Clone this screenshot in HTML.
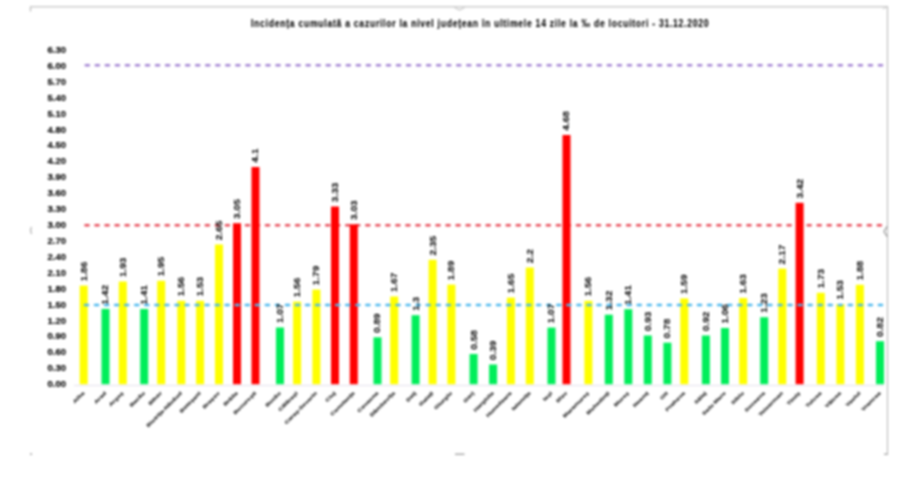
<!DOCTYPE html>
<html><head><meta charset="utf-8">
<style>
html,body{margin:0;padding:0;background:#fff;}
body{width:922px;height:500px;overflow:hidden;position:relative;}
svg{position:absolute;left:0;top:0;}
text{font-family:"Liberation Sans",sans-serif;font-weight:bold;stroke-linejoin:round;}
</style></head><body>
<svg width="922" height="500" viewBox="0 0 922 500">
<defs><filter id="bl" x="-5%" y="-5%" width="110%" height="110%" color-interpolation-filters="sRGB"><feGaussianBlur stdDeviation="0.8 0.8"/></filter></defs>
<g filter="url(#bl)">
<rect x="0" y="0" width="922" height="500" fill="#fff"/>

<rect x="30" y="6.3" width="857.5" height="1" fill="#b4b4b4"/>
<rect x="887" y="6.3" width="1" height="448" fill="#b4b4b4"/>
<path d="M30.5 7 L30.5 11.5" stroke="#bdbdbd" stroke-width="1.3" fill="none"/>
<path d="M454.5 7.5 L459.5 10 L464.5 7.5" stroke="#c8c8c8" stroke-width="1.3" fill="none"/>
<path d="M883 9 L887 6.5" stroke="#c8c8c8" stroke-width="1" fill="none"/>
<path d="M31.5 227 L30.5 230 L31.5 234" stroke="#b0b0b0" stroke-width="1.2" fill="none"/>
<path d="M887 226.5 L884 231.5 L887 236.5" stroke="#909090" stroke-width="1.2" fill="none"/>
<rect x="30.3" y="453.3" width="1.6" height="1.6" fill="#909090"/>
<rect x="455" y="453.5" width="9.5" height="1.5" fill="#a8a8a8"/>
<rect x="884" y="453.5" width="4" height="1.4" fill="#a8a8a8"/>
<text transform="translate(251,26.6) scale(0.86,1)" x="0" y="0" font-size="10" fill="#000" stroke="#000" stroke-width="0.1" textLength="532" lengthAdjust="spacing">Incidența cumulată a cazurilor la nivel județean în ultimele 14 zile la ‰ de locuitori - 31.12.2020</text>
<text x="66" y="387.2" font-size="9.5" text-anchor="end" fill="#000" stroke="#000" stroke-width="0.15">0.00</text>
<text x="66" y="371.3" font-size="9.5" text-anchor="end" fill="#000" stroke="#000" stroke-width="0.15">0.30</text>
<text x="66" y="355.4" font-size="9.5" text-anchor="end" fill="#000" stroke="#000" stroke-width="0.15">0.60</text>
<text x="66" y="339.4" font-size="9.5" text-anchor="end" fill="#000" stroke="#000" stroke-width="0.15">0.90</text>
<text x="66" y="323.5" font-size="9.5" text-anchor="end" fill="#000" stroke="#000" stroke-width="0.15">1.20</text>
<text x="66" y="307.6" font-size="9.5" text-anchor="end" fill="#000" stroke="#000" stroke-width="0.15">1.50</text>
<text x="66" y="291.7" font-size="9.5" text-anchor="end" fill="#000" stroke="#000" stroke-width="0.15">1.80</text>
<text x="66" y="275.8" font-size="9.5" text-anchor="end" fill="#000" stroke="#000" stroke-width="0.15">2.10</text>
<text x="66" y="259.8" font-size="9.5" text-anchor="end" fill="#000" stroke="#000" stroke-width="0.15">2.40</text>
<text x="66" y="243.9" font-size="9.5" text-anchor="end" fill="#000" stroke="#000" stroke-width="0.15">2.70</text>
<text x="66" y="228.0" font-size="9.5" text-anchor="end" fill="#000" stroke="#000" stroke-width="0.15">3.00</text>
<text x="66" y="212.1" font-size="9.5" text-anchor="end" fill="#000" stroke="#000" stroke-width="0.15">3.30</text>
<text x="66" y="196.2" font-size="9.5" text-anchor="end" fill="#000" stroke="#000" stroke-width="0.15">3.60</text>
<text x="66" y="180.2" font-size="9.5" text-anchor="end" fill="#000" stroke="#000" stroke-width="0.15">3.90</text>
<text x="66" y="164.3" font-size="9.5" text-anchor="end" fill="#000" stroke="#000" stroke-width="0.15">4.20</text>
<text x="66" y="148.4" font-size="9.5" text-anchor="end" fill="#000" stroke="#000" stroke-width="0.15">4.50</text>
<text x="66" y="132.5" font-size="9.5" text-anchor="end" fill="#000" stroke="#000" stroke-width="0.15">4.80</text>
<text x="66" y="116.6" font-size="9.5" text-anchor="end" fill="#000" stroke="#000" stroke-width="0.15">5.10</text>
<text x="66" y="100.6" font-size="9.5" text-anchor="end" fill="#000" stroke="#000" stroke-width="0.15">5.40</text>
<text x="66" y="84.7" font-size="9.5" text-anchor="end" fill="#000" stroke="#000" stroke-width="0.15">5.70</text>
<text x="66" y="68.8" font-size="9.5" text-anchor="end" fill="#000" stroke="#000" stroke-width="0.15">6.00</text>
<text x="66" y="52.9" font-size="9.5" text-anchor="end" fill="#000" stroke="#000" stroke-width="0.15">6.30</text>
<rect x="74" y="385.0" width="810" height="1" fill="#e4e0ec"/>
<line x1="85.5" y1="225.2" x2="884" y2="225.2" stroke="#e84a58" stroke-width="2.6" stroke-linecap="round" stroke-dasharray="3.0 7.03"/>
<rect x="79.7" y="285.6" width="8.0" height="98.6" fill="#FFFF00"/>
<rect x="101.5" y="308.9" width="8.0" height="75.3" fill="#00EE5A"/>
<rect x="118.8" y="281.5" width="8.0" height="102.7" fill="#FFFF00"/>
<rect x="140.2" y="309.0" width="8.0" height="75.2" fill="#00EE5A"/>
<rect x="157.2" y="280.8" width="8.0" height="103.4" fill="#FFFF00"/>
<rect x="177.3" y="300.8" width="8.0" height="83.4" fill="#FFFF00"/>
<rect x="196.1" y="300.8" width="8.0" height="83.4" fill="#FFFF00"/>
<rect x="215.0" y="244.5" width="8.0" height="139.7" fill="#FFFF00"/>
<rect x="233.0" y="223.2" width="8.0" height="161.0" fill="#FF0000"/>
<rect x="251.5" y="167.0" width="8.0" height="217.2" fill="#FF0000"/>
<rect x="276.0" y="327.5" width="8.0" height="56.7" fill="#00EE5A"/>
<rect x="293.1" y="301.6" width="8.0" height="82.6" fill="#FFFF00"/>
<rect x="312.4" y="289.6" width="8.0" height="94.6" fill="#FFFF00"/>
<rect x="331.0" y="206.5" width="8.0" height="177.7" fill="#FF0000"/>
<rect x="349.8" y="224.3" width="8.0" height="159.9" fill="#FF0000"/>
<rect x="373.5" y="337.3" width="8.0" height="46.9" fill="#00EE5A"/>
<rect x="390.2" y="296.5" width="8.0" height="87.7" fill="#FFFF00"/>
<rect x="411.6" y="315.2" width="8.0" height="69.0" fill="#00EE5A"/>
<rect x="428.6" y="259.8" width="8.0" height="124.4" fill="#FFFF00"/>
<rect x="447.4" y="284.6" width="8.0" height="99.6" fill="#FFFF00"/>
<rect x="469.6" y="354.0" width="8.0" height="30.2" fill="#00EE5A"/>
<rect x="489.1" y="364.5" width="8.0" height="19.7" fill="#00EE5A"/>
<rect x="506.9" y="297.6" width="8.0" height="86.6" fill="#FFFF00"/>
<rect x="525.8" y="267.5" width="8.0" height="116.7" fill="#FFFF00"/>
<rect x="547.5" y="327.6" width="8.0" height="56.6" fill="#00EE5A"/>
<rect x="562.5" y="135.0" width="8.0" height="249.2" fill="#FF0000"/>
<rect x="584.4" y="300.8" width="8.0" height="83.4" fill="#FFFF00"/>
<rect x="604.8" y="314.7" width="8.0" height="69.5" fill="#00EE5A"/>
<rect x="624.3" y="309.2" width="8.0" height="75.0" fill="#00EE5A"/>
<rect x="643.8" y="335.5" width="8.0" height="48.7" fill="#00EE5A"/>
<rect x="663.4" y="342.7" width="8.0" height="41.5" fill="#00EE5A"/>
<rect x="680.3" y="298.4" width="8.0" height="85.8" fill="#FFFF00"/>
<rect x="701.9" y="335.5" width="8.0" height="48.7" fill="#00EE5A"/>
<rect x="721.0" y="328.0" width="8.0" height="56.2" fill="#00EE5A"/>
<rect x="739.2" y="298.0" width="8.0" height="86.2" fill="#FFFF00"/>
<rect x="760.2" y="317.2" width="8.0" height="67.0" fill="#00EE5A"/>
<rect x="778.3" y="268.6" width="8.0" height="115.6" fill="#FFFF00"/>
<rect x="795.6" y="202.8" width="8.0" height="181.4" fill="#FF0000"/>
<rect x="816.8" y="292.8" width="8.0" height="91.4" fill="#FFFF00"/>
<rect x="836.4" y="304.0" width="8.0" height="80.2" fill="#FFFF00"/>
<rect x="855.9" y="284.8" width="8.0" height="99.4" fill="#FFFF00"/>
<rect x="876.0" y="341.2" width="8.0" height="43.0" fill="#00EE5A"/>
<line x1="85.8" y1="65.2" x2="884" y2="65.2" stroke="#a383d3" stroke-width="2.6" stroke-linecap="round" stroke-dasharray="3.0 7.04"/>
<line x1="85.0" y1="305.0" x2="884" y2="305.0" stroke="#4ab8ee" stroke-width="2.6" stroke-linecap="round" stroke-dasharray="3.0 7.05"/>
<text transform="translate(86.6,281.4) rotate(-90) scale(1,0.8)" font-size="10.2" fill="#000" stroke="#000" stroke-width="0">1.86</text>
<text transform="translate(108.4,304.7) rotate(-90) scale(1,0.8)" font-size="10.2" fill="#000" stroke="#000" stroke-width="0">1.42</text>
<text transform="translate(125.7,277.3) rotate(-90) scale(1,0.8)" font-size="10.2" fill="#000" stroke="#000" stroke-width="0">1.93</text>
<text transform="translate(147.1,304.8) rotate(-90) scale(1,0.8)" font-size="10.2" fill="#000" stroke="#000" stroke-width="0">1.41</text>
<text transform="translate(164.1,276.6) rotate(-90) scale(1,0.8)" font-size="10.2" fill="#000" stroke="#000" stroke-width="0">1.95</text>
<text transform="translate(184.2,296.6) rotate(-90) scale(1,0.8)" font-size="10.2" fill="#000" stroke="#000" stroke-width="0">1.56</text>
<text transform="translate(203.0,296.6) rotate(-90) scale(1,0.8)" font-size="10.2" fill="#000" stroke="#000" stroke-width="0">1.53</text>
<text transform="translate(221.9,240.3) rotate(-90) scale(1,0.8)" font-size="10.2" fill="#000" stroke="#000" stroke-width="0">2.65</text>
<text transform="translate(239.9,219.0) rotate(-90) scale(1,0.8)" font-size="10.2" fill="#000" stroke="#000" stroke-width="0">3.05</text>
<text transform="translate(258.4,162.8) rotate(-90) scale(1,0.8)" font-size="10.2" fill="#000" stroke="#000" stroke-width="0">4.1</text>
<text transform="translate(282.9,323.3) rotate(-90) scale(1,0.8)" font-size="10.2" fill="#000" stroke="#000" stroke-width="0">1.07</text>
<text transform="translate(300.0,297.4) rotate(-90) scale(1,0.8)" font-size="10.2" fill="#000" stroke="#000" stroke-width="0">1.56</text>
<text transform="translate(319.3,285.4) rotate(-90) scale(1,0.8)" font-size="10.2" fill="#000" stroke="#000" stroke-width="0">1.79</text>
<text transform="translate(337.9,202.3) rotate(-90) scale(1,0.8)" font-size="10.2" fill="#000" stroke="#000" stroke-width="0">3.33</text>
<text transform="translate(356.7,220.1) rotate(-90) scale(1,0.8)" font-size="10.2" fill="#000" stroke="#000" stroke-width="0">3.03</text>
<text transform="translate(380.4,333.1) rotate(-90) scale(1,0.8)" font-size="10.2" fill="#000" stroke="#000" stroke-width="0">0.89</text>
<text transform="translate(397.1,292.3) rotate(-90) scale(1,0.8)" font-size="10.2" fill="#000" stroke="#000" stroke-width="0">1.67</text>
<text transform="translate(418.5,311.0) rotate(-90) scale(1,0.8)" font-size="10.2" fill="#000" stroke="#000" stroke-width="0">1.3</text>
<text transform="translate(435.5,255.6) rotate(-90) scale(1,0.8)" font-size="10.2" fill="#000" stroke="#000" stroke-width="0">2.35</text>
<text transform="translate(454.3,280.4) rotate(-90) scale(1,0.8)" font-size="10.2" fill="#000" stroke="#000" stroke-width="0">1.89</text>
<text transform="translate(476.5,349.8) rotate(-90) scale(1,0.8)" font-size="10.2" fill="#000" stroke="#000" stroke-width="0">0.58</text>
<text transform="translate(496.0,360.3) rotate(-90) scale(1,0.8)" font-size="10.2" fill="#000" stroke="#000" stroke-width="0">0.39</text>
<text transform="translate(513.8,293.4) rotate(-90) scale(1,0.8)" font-size="10.2" fill="#000" stroke="#000" stroke-width="0">1.65</text>
<text transform="translate(532.7,263.3) rotate(-90) scale(1,0.8)" font-size="10.2" fill="#000" stroke="#000" stroke-width="0">2.2</text>
<text transform="translate(554.4,323.4) rotate(-90) scale(1,0.8)" font-size="10.2" fill="#000" stroke="#000" stroke-width="0">1.07</text>
<text transform="translate(569.4,130.8) rotate(-90) scale(1,0.8)" font-size="10.2" fill="#000" stroke="#000" stroke-width="0">4.68</text>
<text transform="translate(591.3,296.6) rotate(-90) scale(1,0.8)" font-size="10.2" fill="#000" stroke="#000" stroke-width="0">1.56</text>
<text transform="translate(611.7,310.5) rotate(-90) scale(1,0.8)" font-size="10.2" fill="#000" stroke="#000" stroke-width="0">1.32</text>
<text transform="translate(631.2,305.0) rotate(-90) scale(1,0.8)" font-size="10.2" fill="#000" stroke="#000" stroke-width="0">1.41</text>
<text transform="translate(650.7,331.3) rotate(-90) scale(1,0.8)" font-size="10.2" fill="#000" stroke="#000" stroke-width="0">0.93</text>
<text transform="translate(670.3,338.5) rotate(-90) scale(1,0.8)" font-size="10.2" fill="#000" stroke="#000" stroke-width="0">0.78</text>
<text transform="translate(687.2,294.2) rotate(-90) scale(1,0.8)" font-size="10.2" fill="#000" stroke="#000" stroke-width="0">1.59</text>
<text transform="translate(708.8,331.3) rotate(-90) scale(1,0.8)" font-size="10.2" fill="#000" stroke="#000" stroke-width="0">0.92</text>
<text transform="translate(727.9,323.8) rotate(-90) scale(1,0.8)" font-size="10.2" fill="#000" stroke="#000" stroke-width="0">1.06</text>
<text transform="translate(746.1,293.8) rotate(-90) scale(1,0.8)" font-size="10.2" fill="#000" stroke="#000" stroke-width="0">1.63</text>
<text transform="translate(767.1,313.0) rotate(-90) scale(1,0.8)" font-size="10.2" fill="#000" stroke="#000" stroke-width="0">1.23</text>
<text transform="translate(785.2,264.4) rotate(-90) scale(1,0.8)" font-size="10.2" fill="#000" stroke="#000" stroke-width="0">2.17</text>
<text transform="translate(802.5,198.6) rotate(-90) scale(1,0.8)" font-size="10.2" fill="#000" stroke="#000" stroke-width="0">3.42</text>
<text transform="translate(823.7,288.6) rotate(-90) scale(1,0.8)" font-size="10.2" fill="#000" stroke="#000" stroke-width="0">1.73</text>
<text transform="translate(843.3,299.8) rotate(-90) scale(1,0.8)" font-size="10.2" fill="#000" stroke="#000" stroke-width="0">1.53</text>
<text transform="translate(862.8,280.6) rotate(-90) scale(1,0.8)" font-size="10.2" fill="#000" stroke="#000" stroke-width="0">1.88</text>
<text transform="translate(882.9,337.0) rotate(-90) scale(1,0.8)" font-size="10.2" fill="#000" stroke="#000" stroke-width="0">0.82</text>
<text transform="translate(84.7,393.5) rotate(-45) scale(1,0.7)" font-size="6.5" text-anchor="end" fill="#1a1a1a" stroke="#1a1a1a" stroke-width="0.2">Alba</text>
<text transform="translate(106.5,393.5) rotate(-45) scale(1,0.7)" font-size="6.5" text-anchor="end" fill="#1a1a1a" stroke="#1a1a1a" stroke-width="0.2">Arad</text>
<text transform="translate(123.8,393.5) rotate(-45) scale(1,0.7)" font-size="6.5" text-anchor="end" fill="#1a1a1a" stroke="#1a1a1a" stroke-width="0.2">Argeș</text>
<text transform="translate(145.2,393.5) rotate(-45) scale(1,0.7)" font-size="6.5" text-anchor="end" fill="#1a1a1a" stroke="#1a1a1a" stroke-width="0.2">Bacău</text>
<text transform="translate(162.2,393.5) rotate(-45) scale(1,0.7)" font-size="6.5" text-anchor="end" fill="#1a1a1a" stroke="#1a1a1a" stroke-width="0.2">Bihor</text>
<text transform="translate(182.3,393.5) rotate(-45) scale(1,0.7)" font-size="6.5" text-anchor="end" fill="#1a1a1a" stroke="#1a1a1a" stroke-width="0.2">Bistrița-Năsăud</text>
<text transform="translate(201.1,393.5) rotate(-45) scale(1,0.7)" font-size="6.5" text-anchor="end" fill="#1a1a1a" stroke="#1a1a1a" stroke-width="0.2">Botoșani</text>
<text transform="translate(220.0,393.5) rotate(-45) scale(1,0.7)" font-size="6.5" text-anchor="end" fill="#1a1a1a" stroke="#1a1a1a" stroke-width="0.2">Brașov</text>
<text transform="translate(238.0,393.5) rotate(-45) scale(1,0.7)" font-size="6.5" text-anchor="end" fill="#1a1a1a" stroke="#1a1a1a" stroke-width="0.2">Brăila</text>
<text transform="translate(256.5,393.5) rotate(-45) scale(1,0.7)" font-size="6.5" text-anchor="end" fill="#1a1a1a" stroke="#1a1a1a" stroke-width="0.2">București</text>
<text transform="translate(281.0,393.5) rotate(-45) scale(1,0.7)" font-size="6.5" text-anchor="end" fill="#1a1a1a" stroke="#1a1a1a" stroke-width="0.2">Buzău</text>
<text transform="translate(298.1,393.5) rotate(-45) scale(1,0.7)" font-size="6.5" text-anchor="end" fill="#1a1a1a" stroke="#1a1a1a" stroke-width="0.2">Călărași</text>
<text transform="translate(317.4,393.5) rotate(-45) scale(1,0.7)" font-size="6.5" text-anchor="end" fill="#1a1a1a" stroke="#1a1a1a" stroke-width="0.2">Caraș-Severin</text>
<text transform="translate(336.0,393.5) rotate(-45) scale(1,0.7)" font-size="6.5" text-anchor="end" fill="#1a1a1a" stroke="#1a1a1a" stroke-width="0.2">Cluj</text>
<text transform="translate(354.8,393.5) rotate(-45) scale(1,0.7)" font-size="6.5" text-anchor="end" fill="#1a1a1a" stroke="#1a1a1a" stroke-width="0.2">Constanța</text>
<text transform="translate(378.5,393.5) rotate(-45) scale(1,0.7)" font-size="6.5" text-anchor="end" fill="#1a1a1a" stroke="#1a1a1a" stroke-width="0.2">Covasna</text>
<text transform="translate(395.2,393.5) rotate(-45) scale(1,0.7)" font-size="6.5" text-anchor="end" fill="#1a1a1a" stroke="#1a1a1a" stroke-width="0.2">Dâmbovița</text>
<text transform="translate(416.6,393.5) rotate(-45) scale(1,0.7)" font-size="6.5" text-anchor="end" fill="#1a1a1a" stroke="#1a1a1a" stroke-width="0.2">Dolj</text>
<text transform="translate(433.6,393.5) rotate(-45) scale(1,0.7)" font-size="6.5" text-anchor="end" fill="#1a1a1a" stroke="#1a1a1a" stroke-width="0.2">Galați</text>
<text transform="translate(452.4,393.5) rotate(-45) scale(1,0.7)" font-size="6.5" text-anchor="end" fill="#1a1a1a" stroke="#1a1a1a" stroke-width="0.2">Giurgiu</text>
<text transform="translate(474.6,393.5) rotate(-45) scale(1,0.7)" font-size="6.5" text-anchor="end" fill="#1a1a1a" stroke="#1a1a1a" stroke-width="0.2">Gorj</text>
<text transform="translate(494.1,393.5) rotate(-45) scale(1,0.7)" font-size="6.5" text-anchor="end" fill="#1a1a1a" stroke="#1a1a1a" stroke-width="0.2">Harghita</text>
<text transform="translate(511.9,393.5) rotate(-45) scale(1,0.7)" font-size="6.5" text-anchor="end" fill="#1a1a1a" stroke="#1a1a1a" stroke-width="0.2">Hunedoara</text>
<text transform="translate(530.8,393.5) rotate(-45) scale(1,0.7)" font-size="6.5" text-anchor="end" fill="#1a1a1a" stroke="#1a1a1a" stroke-width="0.2">Ialomița</text>
<text transform="translate(552.5,393.5) rotate(-45) scale(1,0.7)" font-size="6.5" text-anchor="end" fill="#1a1a1a" stroke="#1a1a1a" stroke-width="0.2">Iași</text>
<text transform="translate(567.5,393.5) rotate(-45) scale(1,0.7)" font-size="6.5" text-anchor="end" fill="#1a1a1a" stroke="#1a1a1a" stroke-width="0.2">Ilfov</text>
<text transform="translate(589.4,393.5) rotate(-45) scale(1,0.7)" font-size="6.5" text-anchor="end" fill="#1a1a1a" stroke="#1a1a1a" stroke-width="0.2">Maramureș</text>
<text transform="translate(609.8,393.5) rotate(-45) scale(1,0.7)" font-size="6.5" text-anchor="end" fill="#1a1a1a" stroke="#1a1a1a" stroke-width="0.2">Mehedinți</text>
<text transform="translate(629.3,393.5) rotate(-45) scale(1,0.7)" font-size="6.5" text-anchor="end" fill="#1a1a1a" stroke="#1a1a1a" stroke-width="0.2">Mureș</text>
<text transform="translate(648.8,393.5) rotate(-45) scale(1,0.7)" font-size="6.5" text-anchor="end" fill="#1a1a1a" stroke="#1a1a1a" stroke-width="0.2">Neamț</text>
<text transform="translate(668.4,393.5) rotate(-45) scale(1,0.7)" font-size="6.5" text-anchor="end" fill="#1a1a1a" stroke="#1a1a1a" stroke-width="0.2">Olt</text>
<text transform="translate(685.3,393.5) rotate(-45) scale(1,0.7)" font-size="6.5" text-anchor="end" fill="#1a1a1a" stroke="#1a1a1a" stroke-width="0.2">Prahova</text>
<text transform="translate(706.9,393.5) rotate(-45) scale(1,0.7)" font-size="6.5" text-anchor="end" fill="#1a1a1a" stroke="#1a1a1a" stroke-width="0.2">Sălaj</text>
<text transform="translate(726.0,393.5) rotate(-45) scale(1,0.7)" font-size="6.5" text-anchor="end" fill="#1a1a1a" stroke="#1a1a1a" stroke-width="0.2">Satu Mare</text>
<text transform="translate(744.2,393.5) rotate(-45) scale(1,0.7)" font-size="6.5" text-anchor="end" fill="#1a1a1a" stroke="#1a1a1a" stroke-width="0.2">Sibiu</text>
<text transform="translate(765.2,393.5) rotate(-45) scale(1,0.7)" font-size="6.5" text-anchor="end" fill="#1a1a1a" stroke="#1a1a1a" stroke-width="0.2">Suceava</text>
<text transform="translate(783.3,393.5) rotate(-45) scale(1,0.7)" font-size="6.5" text-anchor="end" fill="#1a1a1a" stroke="#1a1a1a" stroke-width="0.2">Teleorman</text>
<text transform="translate(800.6,393.5) rotate(-45) scale(1,0.7)" font-size="6.5" text-anchor="end" fill="#1a1a1a" stroke="#1a1a1a" stroke-width="0.2">Timiș</text>
<text transform="translate(821.8,393.5) rotate(-45) scale(1,0.7)" font-size="6.5" text-anchor="end" fill="#1a1a1a" stroke="#1a1a1a" stroke-width="0.2">Tulcea</text>
<text transform="translate(841.4,393.5) rotate(-45) scale(1,0.7)" font-size="6.5" text-anchor="end" fill="#1a1a1a" stroke="#1a1a1a" stroke-width="0.2">Vâlcea</text>
<text transform="translate(860.9,393.5) rotate(-45) scale(1,0.7)" font-size="6.5" text-anchor="end" fill="#1a1a1a" stroke="#1a1a1a" stroke-width="0.2">Vaslui</text>
<text transform="translate(881.0,393.5) rotate(-45) scale(1,0.7)" font-size="6.5" text-anchor="end" fill="#1a1a1a" stroke="#1a1a1a" stroke-width="0.2">Vrancea</text>
</g></svg>
</body></html>
